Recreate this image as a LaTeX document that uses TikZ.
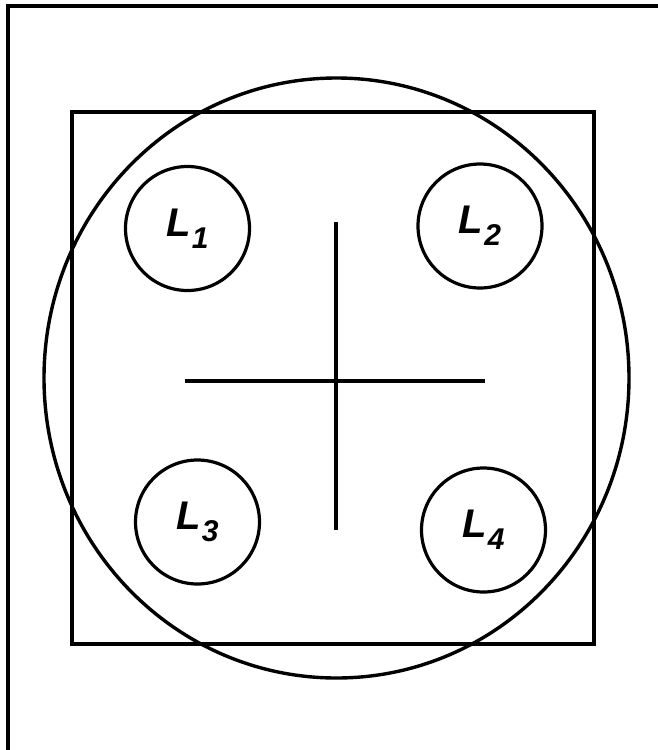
\documentclass[tikz,border=0pt]{standalone}
\usepackage{fontspec}
\setmainfont{Liberation Sans}
\usetikzlibrary{shapes.geometric}
\tikzset{
  ink/.style={draw=black, line width=3.4pt},
  lens/.style={circle, draw=black, line width=3.2pt, minimum size=124pt, inner sep=0pt,
    font=\fontsize{40}{40}\selectfont\bfseries\itshape},
}
\newcommand{\lenslabel}[1]{L\kern1pt\raisebox{-12pt}{\fontsize{30}{30}\selectfont #1}}
\begin{document}
\begin{tikzpicture}[x=1pt,y=-1pt]
\useasboundingbox (0,0) rectangle (658,750);
% cropped outer frame
\coordinate (fbl) at (8,750);
\coordinate (ftl) at (8,6);
\coordinate (ftr) at (658,6);
\draw[line width=3.4pt, line join=miter] (fbl) -- (ftl) -- (ftr);
% square
\node[draw=black, line width=4.4pt, minimum width=522pt, minimum height=532pt, inner sep=0pt] (sq) at (333,378) {};
% big circle
\node[ellipse, draw=black, line width=3.4pt, minimum width=585pt, minimum height=600pt, inner sep=0pt] (big) at (336.5,378) {};
% cross
\coordinate (vt) at (336,222);
\coordinate (vb) at (336,530);
\coordinate (hl) at (185,381);
\coordinate (hr) at (485,381);
\draw[ink] (vt) -- (vb);
\draw[ink] (hl) -- (hr);
% lenses
\node[lens] (L1) at (187.5,228.5) {\lenslabel{1}};
\node[lens] (L2) at (480,226) {\lenslabel{2}};
\node[lens] (L3) at (197.5,522) {\lenslabel{3}};
\node[lens] (L4) at (483.5,530) {\lenslabel{4}};
\end{tikzpicture}
\end{document}
